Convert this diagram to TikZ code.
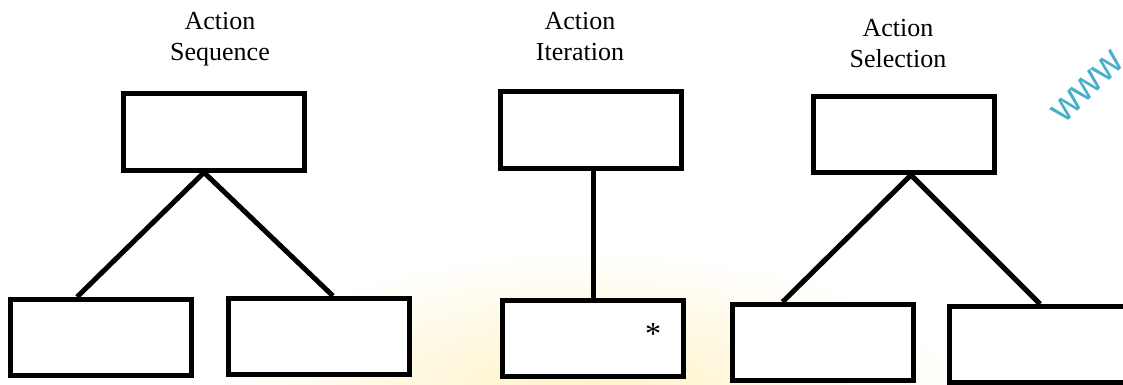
\documentclass[tikz,border=0pt]{standalone}
\usepackage{fontspec}
\setmainfont{Liberation Serif}
\newfontfamily\markfont{Liberation Sans}
\definecolor{markblue}{RGB}{72,174,202}
\definecolor{glow}{RGB}{255,242,196}

\begin{document}
\begin{tikzpicture}[x=1pt, y=-1pt,
        box/.style={draw, line width=5pt, fill=white, inner sep=0pt,
            minimum width=181pt, minimum height=76pt},
        link/.style={line width=5pt},
        title/.style={align=center, inner sep=0pt, anchor=north,
            font=\fontsize{26}{31}\selectfont}]
        \useasboundingbox (0,0) rectangle (1123,385);
        % soft glow along the bottom edge
        \shade[inner color=glow, outer color=white] (210,250) rectangle (970,550);
        \node[rotate=45, anchor=base west, inner sep=0pt, text=markblue,
            font=\markfont\fontsize{40}{44}\selectfont] (mark) at (1064,125) {www.};

        % titles
        \node[title] (seqtitle) at (220,12) {Action\\Sequence};
        \node[title] (itertitle) at (580,12) {Action\\Iteration};
        \node[title] (seltitle) at (898,19) {Action\\Selection};

        % sequence
        \node[box] (seqtop) at (214,132) {};
        \node[box] (seqleft) at (101,337.5) {};
        \node[box] (seqright) at (319,336.5) {};
        \draw[link] ([xshift=-10pt]seqtop.south) -- ([xshift=-24pt]seqleft.north);
        \draw[link] ([xshift=-10pt]seqtop.south) -- ([xshift=14pt]seqright.north);

        % iteration
        \node[box] (itertop) at (590.5,130) {};
        \node[box] (iterbot) at (593,338) {};
        \node[font=\fontsize{32}{36}\selectfont, anchor=base] (star) at (653,344) {*};
        \draw[link] (iterbot.north) -- (iterbot.north |- itertop.south);

        % selection
        \node[box] (seltop) at (904,134.5) {};
        \node[box] (selleft) at (822.5,342.5) {};
        \node[box] (selright) at (1040,344.5) {};
        \draw[link] ([xshift=7pt]seltop.south) -- ([xshift=-40pt]selleft.north);
        \draw[link] ([xshift=7pt]seltop.south) -- (selright.north);
    \end{tikzpicture}
\end{document}
